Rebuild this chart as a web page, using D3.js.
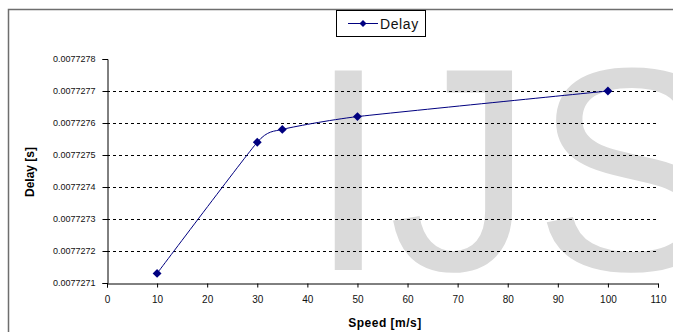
<!DOCTYPE html>
<html>
<head>
<meta charset="utf-8">
<script src="https://cdn.jsdelivr.net/npm/d3@7"></script>
<style>
  body { margin: 0; background: #fff; }
  svg { display: block; font-family: "Liberation Sans", Arial, sans-serif; }
</style>
</head>
<body>
<svg id="chart" width="673" height="332"></svg>
<script>
var speeds = [10, 30, 35, 50, 100];
var delays = [0.00772713, 0.00772754, 0.00772758, 0.00772762, 0.0077277];
var xTicks = [0, 10, 20, 30, 40, 50, 60, 70, 80, 90, 100, 110];
var yTicks = [0.0077271, 0.0077272, 0.0077273, 0.0077274, 0.0077275, 0.0077276, 0.0077277, 0.0077278];
var seriesName = 'Delay';

var svg = d3.select('#chart');
var navy = '#000080';

var x = d3.scaleLinear().domain([0, 110]).range([107, 658]);
var y = d3.scaleLinear().domain([0.0077271, 0.0077278]).range([283, 59]);

// outer chart border
svg.append('rect')
    .attr('x', 8.5).attr('y', 9.5)
    .attr('width', 720).attr('height', 400)
    .attr('fill', 'none')
    .attr('stroke', '#6e6e6e')
    .attr('stroke-width', 1.5);

// watermark behind the plot
svg.append('text')
    .attr('x', 308).attr('y', 270)
    .attr('font-size', 290)
    .attr('fill', '#dadada')
    .text('IJS');

// dashed gridlines (not on the bottom or top tick)
svg.append('g').selectAll('line')
    .data(yTicks.slice(1, -1))
  .enter().append('line')
    .attr('x1', x(0)).attr('x2', x(110))
    .attr('y1', function(d) { return Math.round(y(d)) + 0.5; })
    .attr('y2', function(d) { return Math.round(y(d)) + 0.5; })
    .attr('stroke', '#000')
    .attr('stroke-dasharray', '3,3');

var yAxis = svg.append('g')
    .attr('transform', 'translate(' + (x(0) + 0.5) + ',0)')
    .call(d3.axisLeft(y).tickValues(yTicks).tickSize(5).tickPadding(7)
        .tickFormat(d3.format('.7f')));

var xAxis = svg.append('g')
    .attr('transform', 'translate(0,' + (y(0.0077271) + 0.5) + ')')
    .call(d3.axisBottom(x).tickValues(xTicks).tickSize(4).tickPadding(8));

[xAxis, yAxis].forEach(function(g) {
    g.select('.domain').attr('stroke', '#000');
    g.selectAll('.tick line').attr('stroke', '#000');
    g.selectAll('.tick text').attr('fill', '#111').attr('font-family', '"Liberation Sans", Arial, sans-serif');
});
yAxis.selectAll('.tick text').attr('font-size', 9);
xAxis.selectAll('.tick text').attr('font-size', 10);

// axis titles
svg.append('text')
    .attr('x', 385).attr('y', 327)
    .attr('text-anchor', 'middle')
    .attr('font-size', 12).attr('font-weight', 'bold')
    .attr('letter-spacing', 0.5)
    .text('Speed [m/s]');

svg.append('text')
    .attr('transform', 'translate(34,172) rotate(-90)')
    .attr('text-anchor', 'middle')
    .attr('font-size', 12).attr('font-weight', 'bold')
    .text('Delay [s]');

// series, lightly smoothed (tension keeps it from looping between 30 and 35)
var pts = speeds.map(function(s, i) { return [x(s), y(delays[i])]; });
var line = d3.line().curve(d3.curveCardinal.tension(0.5));

svg.append('path')
    .attr('d', line(pts))
    .attr('fill', 'none')
    .attr('stroke', navy)
    .attr('stroke-width', 1);

var diamond = d3.symbol().type(d3.symbolDiamond2).size(50);

svg.append('g').selectAll('path')
    .data(pts)
  .enter().append('path')
    .attr('transform', function(d) { return 'translate(' + d[0] + ',' + d[1] + ')'; })
    .attr('d', diamond)
    .attr('fill', navy);

// legend
var lg = svg.append('g');
lg.append('rect')
    .attr('x', 336.5).attr('y', 10.5)
    .attr('width', 89).attr('height', 26)
    .attr('fill', '#fff')
    .attr('stroke', '#000');
lg.append('line')
    .attr('x1', 348).attr('x2', 378)
    .attr('y1', 23.5).attr('y2', 23.5)
    .attr('stroke', navy);
lg.append('path')
    .attr('transform', 'translate(363,23.5)')
    .attr('d', d3.symbol().type(d3.symbolDiamond2).size(32))
    .attr('fill', navy);
lg.append('text')
    .attr('x', 380).attr('y', 28.5)
    .attr('font-size', 14)
    .attr('letter-spacing', 0.6)
    .attr('fill', '#111')
    .text(seriesName);
</script>
</body>
</html>
